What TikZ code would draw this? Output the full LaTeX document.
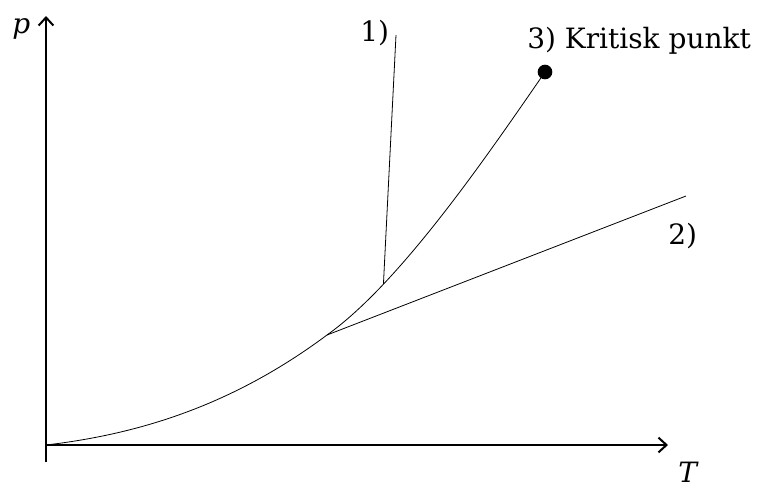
\documentclass[tikz,border=0pt]{standalone}
\usepackage{fontspec}
\setmainfont{DejaVu Serif}
\usetikzlibrary{positioning,arrows.meta,calc}

\begin{document}
\begin{tikzpicture}[x=0.75pt, y=-0.75pt, font=\fontsize{21}{25}\selectfont,
    axis/.style={line width=1.5pt, -{Straight Barb[length=6pt, width=11pt, line width=1.5pt]}},
    phase/.style={line width=0.6pt},
    lbl/.style={inner sep=0pt, anchor=base west}]
    \useasboundingbox (0,0) rectangle (760,489);
    % axes
    \coordinate (O) at (46,445);
    \coordinate (ybot) at (46,462);
    \coordinate (ytop) at (46,16);
    \coordinate (xend) at (668,445);
    \draw[axis] (ybot) -- (ytop);
    \draw[axis] (O) -- (xend);
    \node[lbl] (plbl) at (12,33) {\textit{p}};
    \node[lbl] (Tlbl) at (678,482) {\textit{T}};
    % triple point and critical point
    \coordinate (tp) at (327,335);
    \node[circle, fill, inner sep=0pt, minimum size=11pt] (kp) at (545,72) {};
    % vapour curve
    \draw[phase] (O) .. controls (140,434) and (233,405) .. (tp);
    \draw[phase] (tp) .. controls (400,283) and (485,159) .. coordinate[pos=0.25] (j1) (kp.center);
    % melting and sublimation lines
    \coordinate (m1) at (396,35);
    \coordinate (s2) at (686,196);
    \draw[phase] (j1) -- (m1);
    \draw[phase] (tp) -- (s2);
    \node[lbl] (l1) at (360,41) {1)};
    \node[lbl] (l2) at (668,244) {2)};
    \node[lbl] (l3) at (527,48) {3) Kritisk punkt};
\end{tikzpicture}
\end{document}
